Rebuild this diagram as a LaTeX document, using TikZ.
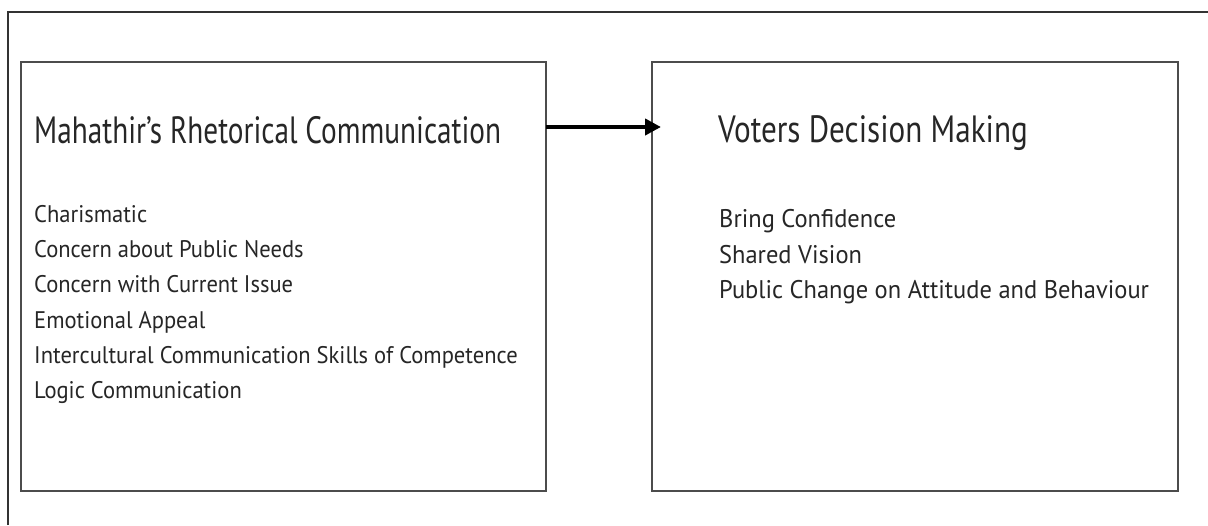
\documentclass[tikz,border=0pt]{standalone}
\usepackage{fontspec}
\setmainfont{PT Sans}
\newfontfamily\ttlA{PT Sans}[FakeStretch=0.77]
\newfontfamily\ttlB{PT Sans}[FakeStretch=0.82]
\newfontfamily\itmA{PT Sans}[FakeStretch=0.94]
\newfontfamily\itmB{PT Sans}[FakeStretch=0.96]
\usetikzlibrary{arrows.meta}
\begin{document}
\begin{tikzpicture}[x=1pt,y=-1pt,
  frame/.style={draw=black!80,line width=1.6pt},
  boxx/.style={draw=black!70,line width=1.8pt,inner sep=0pt,outer sep=0pt,anchor=north west},
  txt/.style={anchor=base west,inner sep=0pt,text=black!85},
  ttll/.style={txt,font=\ttlA\fontsize{38}{42}\selectfont},
  ttlr/.style={txt,font=\ttlB\fontsize{38}{42}\selectfont},
  itml/.style={txt,font=\itmA\fontsize{24}{28}\selectfont},
  itmr/.style={txt,font=\itmB\fontsize{25.5}{29}\selectfont},
  arr/.style={-{Triangle[length=16pt,width=16pt]},line width=4pt,black}]
\useasboundingbox (0,0) rectangle (1208,525);
\fill[white] (0,0) rectangle (1208,525);
\draw[frame] (8,525) -- (8,12) -- (1208,12);
\node[boxx,minimum width=525pt,minimum height=429pt] (lbox) at (21,62) {};
\node[boxx,minimum width=526pt,minimum height=429pt] (rbox) at (652,62) {};
\node[ttll] (lt) at (34,143) {Mahathir’s Rhetorical Communication};
\node[ttlr] (rt) at (718,142) {Voters Decision Making};
\node[itml] (l1) at (34,222) {Charismatic};
\node[itml] (l2) at (34,257) {Concern about Public Needs};
\node[itml] (l3) at (34,292) {Concern with Current Issue};
\node[itml] (l4) at (34,328) {Emotional Appeal};
\node[itml] (l5) at (34,363) {Intercultural Communication Skills of Competence};
\node[itml] (l6) at (34,398) {Logic Communication};
\node[itmr] (r1) at (719,227) {Bring Confidence};
\node[itmr] (r2) at (719,263) {Shared Vision};
\node[itmr] (r3) at (719,298) {Public Change on Attitude and Behaviour};
\coordinate (as) at (546,127);
\coordinate (ae) at (661,127);
\draw[arr] (as) -- (ae);
\end{tikzpicture}
\end{document}
